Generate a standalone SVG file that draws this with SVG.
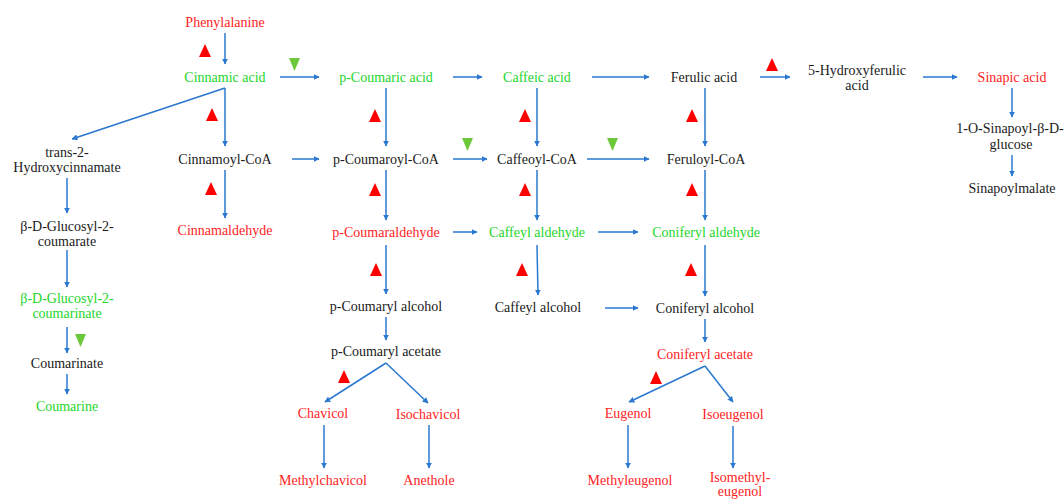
<svg xmlns="http://www.w3.org/2000/svg" width="1064" height="499" viewBox="0 0 1064 499">
<style>
text{font-family:"Liberation Serif","Times New Roman",serif;font-size:14px;text-anchor:middle}
.k{fill:#1a1a1a}.r{fill:#ff2323}.g{fill:#1ed62a}
.a{stroke:#2a78d0;stroke-width:1.5;fill:none;marker-end:url(#ah)}
.up{fill:#ff0000}.dn{fill:#6cc83a}
</style>
<defs>
<marker id="ah" viewBox="0 0 10 10" refX="9" refY="5" markerWidth="6" markerHeight="6" orient="auto" markerUnits="userSpaceOnUse"><path d="M0,0 L10,5 L0,10 z" fill="#2a78d0"/></marker>
</defs>
<rect width="1064" height="499" fill="#ffffff"/>
<g id="connectors">
<line class="a" x1="225" y1="33" x2="225" y2="64"/>
<line class="a" x1="280" y1="77" x2="319" y2="77"/>
<line class="a" x1="453" y1="77" x2="482" y2="77"/>
<line class="a" x1="592" y1="77" x2="649" y2="77"/>
<line class="a" x1="760" y1="77" x2="790" y2="77"/>
<line class="a" x1="923" y1="77" x2="957" y2="77"/>
<line class="a" x1="1012" y1="88" x2="1012" y2="117"/>
<line class="a" x1="1012" y1="155" x2="1012" y2="176"/>
<line class="a" x1="225" y1="88" x2="72" y2="139"/>
<line class="a" x1="225" y1="88" x2="225" y2="146"/>
<line class="a" x1="225" y1="170" x2="225" y2="218"/>
<line class="a" x1="292" y1="159" x2="319" y2="159"/>
<line class="a" x1="386" y1="88" x2="386" y2="146"/>
<line class="a" x1="453" y1="159" x2="487" y2="159"/>
<line class="a" x1="587" y1="159" x2="649" y2="159"/>
<line class="a" x1="537" y1="88" x2="537" y2="146"/>
<line class="a" x1="705" y1="88" x2="705" y2="146"/>
<line class="a" x1="386" y1="170" x2="386" y2="220"/>
<line class="a" x1="537" y1="170" x2="537" y2="220"/>
<line class="a" x1="705" y1="170" x2="705" y2="220"/>
<line class="a" x1="453" y1="232" x2="477" y2="232"/>
<line class="a" x1="598" y1="232" x2="638" y2="232"/>
<line class="a" x1="386" y1="245" x2="386" y2="294"/>
<line class="a" x1="537" y1="245" x2="538" y2="295"/>
<line class="a" x1="705" y1="245" x2="705" y2="296"/>
<line class="a" x1="605" y1="308" x2="638" y2="308"/>
<line class="a" x1="386" y1="317" x2="386" y2="340"/>
<line class="a" x1="705" y1="319" x2="705" y2="342"/>
<line class="a" x1="386" y1="363" x2="325" y2="402"/>
<line class="a" x1="386" y1="363" x2="428" y2="403"/>
<line class="a" x1="705" y1="366" x2="629" y2="402"/>
<line class="a" x1="705" y1="366" x2="733" y2="402"/>
<line class="a" x1="324" y1="425" x2="324" y2="468"/>
<line class="a" x1="429" y1="425" x2="429" y2="468"/>
<line class="a" x1="628" y1="425" x2="628" y2="468"/>
<line class="a" x1="733" y1="426" x2="733" y2="468"/>
<line class="a" x1="67" y1="178" x2="67" y2="213"/>
<line class="a" x1="67" y1="250" x2="67" y2="287"/>
<line class="a" x1="67" y1="327" x2="67" y2="353"/>
<line class="a" x1="67" y1="374" x2="67" y2="394"/>
</g>
<g id="markers">
<path class="up" d="M205,44 L211,57 L199,57 z"/>
<path class="up" d="M212,108 L218,121 L206,121 z"/>
<path class="up" d="M211,182 L217,195 L205,195 z"/>
<path class="up" d="M375,109 L381,122 L369,122 z"/>
<path class="up" d="M375,183 L381,196 L369,196 z"/>
<path class="up" d="M376,263 L382,276 L370,276 z"/>
<path class="up" d="M525,109 L531,122 L519,122 z"/>
<path class="up" d="M525,183 L531,196 L519,196 z"/>
<path class="up" d="M522,263 L528,276 L516,276 z"/>
<path class="up" d="M692,109 L698,122 L686,122 z"/>
<path class="up" d="M692,183 L698,196 L686,196 z"/>
<path class="up" d="M691,263 L697,276 L685,276 z"/>
<path class="up" d="M772,58 L778,71 L766,71 z"/>
<path class="up" d="M344,370 L350,383 L338,383 z"/>
<path class="up" d="M656,371 L662,384 L650,384 z"/>
<path class="dn" d="M289,58 L300,58 L294.5,71 z"/>
<path class="dn" d="M462,138 L473,138 L467.5,151 z"/>
<path class="dn" d="M607,138 L618,138 L612.5,151 z"/>
<path class="dn" d="M75,334 L86,334 L80.5,347 z"/>
</g>
<g id="n-phenylalanine"><text class="r" x="225" y="27">Phenylalanine</text></g>
<g id="n-cinnamic"><text class="g" x="225" y="82">Cinnamic acid</text></g>
<g id="n-pcoumaric"><text class="g" x="386" y="82">p-Coumaric acid</text></g>
<g id="n-caffeic"><text class="g" x="537" y="82">Caffeic acid</text></g>
<g id="n-ferulic"><text class="k" x="704" y="82">Ferulic acid</text></g>
<g id="n-5hydroxy"><text class="k" x="857" y="75">5-Hydroxyferulic</text><text class="k" x="857" y="90">acid</text></g>
<g id="n-sinapic"><text class="r" x="1012" y="82">Sinapic acid</text></g>
<g id="n-sinapoylglucose"><text class="k" x="1010" y="133">1-O-Sinapoyl-β-D-</text><text class="k" x="1011" y="149">glucose</text></g>
<g id="n-sinapoylmalate"><text class="k" x="1012" y="193">Sinapoylmalate</text></g>
<g id="n-trans2"><text class="k" x="67" y="157">trans-2-</text><text class="k" x="67" y="172">Hydroxycinnamate</text></g>
<g id="n-cinnamoylcoa"><text class="k" x="225" y="164">Cinnamoyl-CoA</text></g>
<g id="n-pcoumaroylcoa"><text class="k" x="386" y="164">p-Coumaroyl-CoA</text></g>
<g id="n-caffeoylcoa"><text class="k" x="537" y="164">Caffeoyl-CoA</text></g>
<g id="n-feruloylcoa"><text class="k" x="706" y="164">Feruloyl-CoA</text></g>
<g id="n-coumarate"><text class="k" x="67" y="231">β-D-Glucosyl-2-</text><text class="k" x="67" y="246">coumarate</text></g>
<g id="n-cinnamaldehyde"><text class="r" x="225" y="235">Cinnamaldehyde</text></g>
<g id="n-pcoumaraldehyde"><text class="r" x="386" y="237">p-Coumaraldehyde</text></g>
<g id="n-caffeylaldehyde"><text class="g" x="537" y="237">Caffeyl aldehyde</text></g>
<g id="n-coniferylaldehyde"><text class="g" x="706" y="237">Coniferyl aldehyde</text></g>
<g id="n-coumarinate"><text class="g" x="67" y="303">β-D-Glucosyl-2-</text><text class="g" x="67" y="318">coumarinate</text></g>
<g id="n-pcoumarylalcohol"><text class="k" x="386" y="311">p-Coumaryl alcohol</text></g>
<g id="n-caffeylalcohol"><text class="k" x="538" y="312">Caffeyl alcohol</text></g>
<g id="n-coniferylalcohol"><text class="k" x="705" y="313">Coniferyl alcohol</text></g>
<g id="n-coumarinate2"><text class="k" x="67" y="368">Coumarinate</text></g>
<g id="n-coumarine"><text class="g" x="67" y="411">Coumarine</text></g>
<g id="n-pcoumarylacetate"><text class="k" x="386" y="356">p-Coumaryl acetate</text></g>
<g id="n-coniferylacetate"><text class="r" x="705" y="359">Coniferyl acetate</text></g>
<g id="n-chavicol"><text class="r" x="323" y="418">Chavicol</text></g>
<g id="n-isochavicol"><text class="r" x="428" y="419">Isochavicol</text></g>
<g id="n-eugenol"><text class="r" x="628" y="418">Eugenol</text></g>
<g id="n-isoeugenol"><text class="r" x="733" y="419">Isoeugenol</text></g>
<g id="n-methylchavicol"><text class="r" x="323" y="485">Methylchavicol</text></g>
<g id="n-anethole"><text class="r" x="429" y="485">Anethole</text></g>
<g id="n-methyleugenol"><text class="r" x="630" y="485">Methyleugenol</text></g>
<g id="n-isomethyleugenol"><text class="r" x="740" y="482">Isomethyl-</text><text class="r" x="740" y="496">eugenol</text></g>
</svg>
